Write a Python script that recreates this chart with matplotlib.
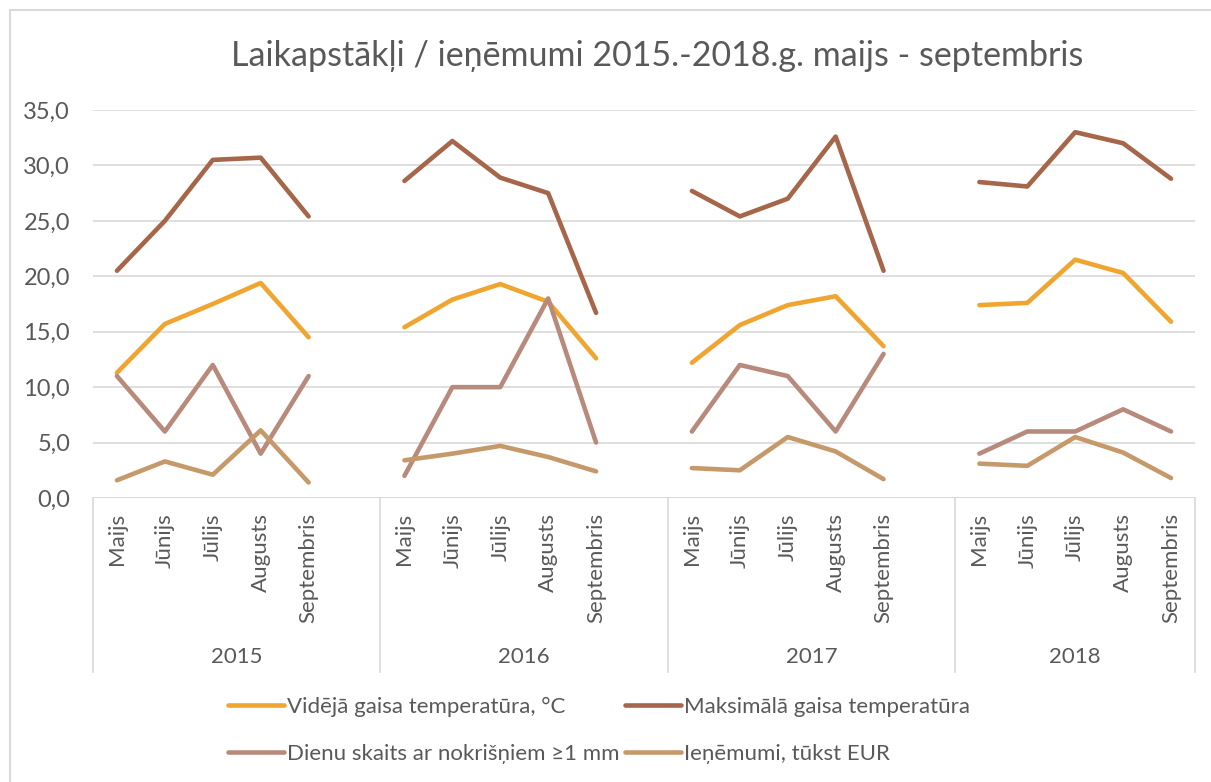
import matplotlib.pyplot as plt
import numpy as np
from matplotlib.lines import Line2D

plt.rcParams['font.family'] = ['Lato', 'DejaVu Sans']

# Data
years = ['2015', '2016', '2017', '2018']
months = ['Maijs', 'Jūnijs', 'Jūlijs', 'Augusts', 'Septembris']

avg_temp = [[11.3, 15.7, 17.5, 19.4, 14.5],
            [15.4, 17.9, 19.3, 17.7, 12.6],
            [12.2, 15.6, 17.4, 18.2, 13.7],
            [17.4, 17.6, 21.5, 20.3, 15.9]]
max_temp = [[20.5, 25.0, 30.5, 30.7, 25.4],
            [28.6, 32.2, 28.9, 27.5, 16.7],
            [27.7, 25.4, 27.0, 32.6, 20.5],
            [28.5, 28.1, 33.0, 32.0, 28.8]]
rain_days = [[11, 6, 12, 4, 11],
             [2, 10, 10, 18, 5],
             [6, 12, 11, 6, 13],
             [4, 6, 6, 8, 6]]
revenue = [[1.6, 3.3, 2.1, 6.1, 1.4],
           [3.4, 4.0, 4.7, 3.7, 2.4],
           [2.7, 2.5, 5.5, 4.2, 1.7],
           [3.1, 2.9, 5.5, 4.1, 1.8]]

series_names = ['Vidējā gaisa temperatūra, °C', 'Maksimālā gaisa temperatūra',
                'Dienu skaits ar nokrišņiem ≥1 mm', 'Ieņēmumi, tūkst EUR']
series_data = [avg_temp, max_temp, rain_days, revenue]
colors = ['#F0A530', '#A5664A', '#B88A7C', '#C6996A']

text_color = '#595959'
grid_color = '#D9D9D9'

fig = plt.figure(figsize=(12.11, 7.82), dpi=100)
ax = fig.add_axes([93 / 1211, 1 - 498 / 782, (1195 - 93) / 1211, (498 - 110) / 782])

# Categories: 5 months per year plus one empty slot between years
labels = []
for i, y in enumerate(years):
    labels += months
    if i < len(years) - 1:
        labels.append('')
n_cat = len(labels)

for name, data, col in zip(series_names, series_data, colors):
    vals = []
    for i, row in enumerate(data):
        vals += list(row)
        if i < len(data) - 1:
            vals.append(np.nan)
    ax.plot(np.arange(n_cat), vals, color=col, lw=3.3, solid_capstyle='round',
            solid_joinstyle='round', label=name)

ax.set_xlim(-0.5, n_cat - 0.5)
ax.set_ylim(0, 35)
ax.set_yticks(np.arange(0, 36, 5))
ax.set_yticklabels([f'{v:.1f}'.replace('.', ',') for v in np.arange(0, 36, 5)])
ax.yaxis.grid(True, color=grid_color, lw=1.2)
ax.set_axisbelow(True)
for s in ax.spines.values():
    s.set_visible(False)
ax.axhline(0, color=grid_color, lw=1.2, zorder=0.5)

ax.set_xticks(np.arange(n_cat))
ax.set_xticklabels(labels, rotation=90, va='top', ha='center')
ax.tick_params(axis='x', length=0, pad=11, labelsize=16, labelcolor=text_color)
ax.tick_params(axis='y', length=0, pad=16.5, labelsize=17, labelcolor=text_color)

# Year groups below month labels
trans = ax.get_xaxis_transform()
bounds = [-0.5]
for i in range(len(years)):
    bounds.append(bounds[-1] + (6 if i < len(years) - 1 else 5))
for b in bounds:
    ax.plot([b, b], [0, -0.448], transform=trans, color=grid_color, lw=1.2, clip_on=False)
for i, y in enumerate(years):
    ax.text((bounds[i] + bounds[i + 1]) / 2, -0.41, y, transform=trans, ha='center',
            va='center', fontsize=16, color=text_color)

fig.text(657 / 1211, 1 - 56 / 782, 'Laikapstākļi / ieņēmumi 2015.-2018.g. maijs - septembris',
         ha='center', va='center', fontsize=24.5, color=text_color)

# legend filled column-wise, so reorder to get row-wise order
order = [0, 2, 1, 3]
handles = [Line2D([], [], color=colors[i], lw=3.3, solid_capstyle='round') for i in order]
leg = fig.legend(handles, [series_names[i] for i in order], ncol=2, loc='center',
                 bbox_to_anchor=(0.4946, 0.066), frameon=False, fontsize=16,
                 handlelength=2.5, handletextpad=0.15, columnspacing=0.25, labelspacing=1.2)
for t in leg.get_texts():
    t.set_color(text_color)

# Chart area border (top and left visible)
fig.add_artist(Line2D([10 / 1211, 10 / 1211], [0, 1 - 10 / 782], color=grid_color, lw=1.5))
fig.add_artist(Line2D([10 / 1211, 1], [1 - 10 / 782, 1 - 10 / 782], color=grid_color, lw=1.5))

fig.savefig('out.png', dpi=100, facecolor='white')
